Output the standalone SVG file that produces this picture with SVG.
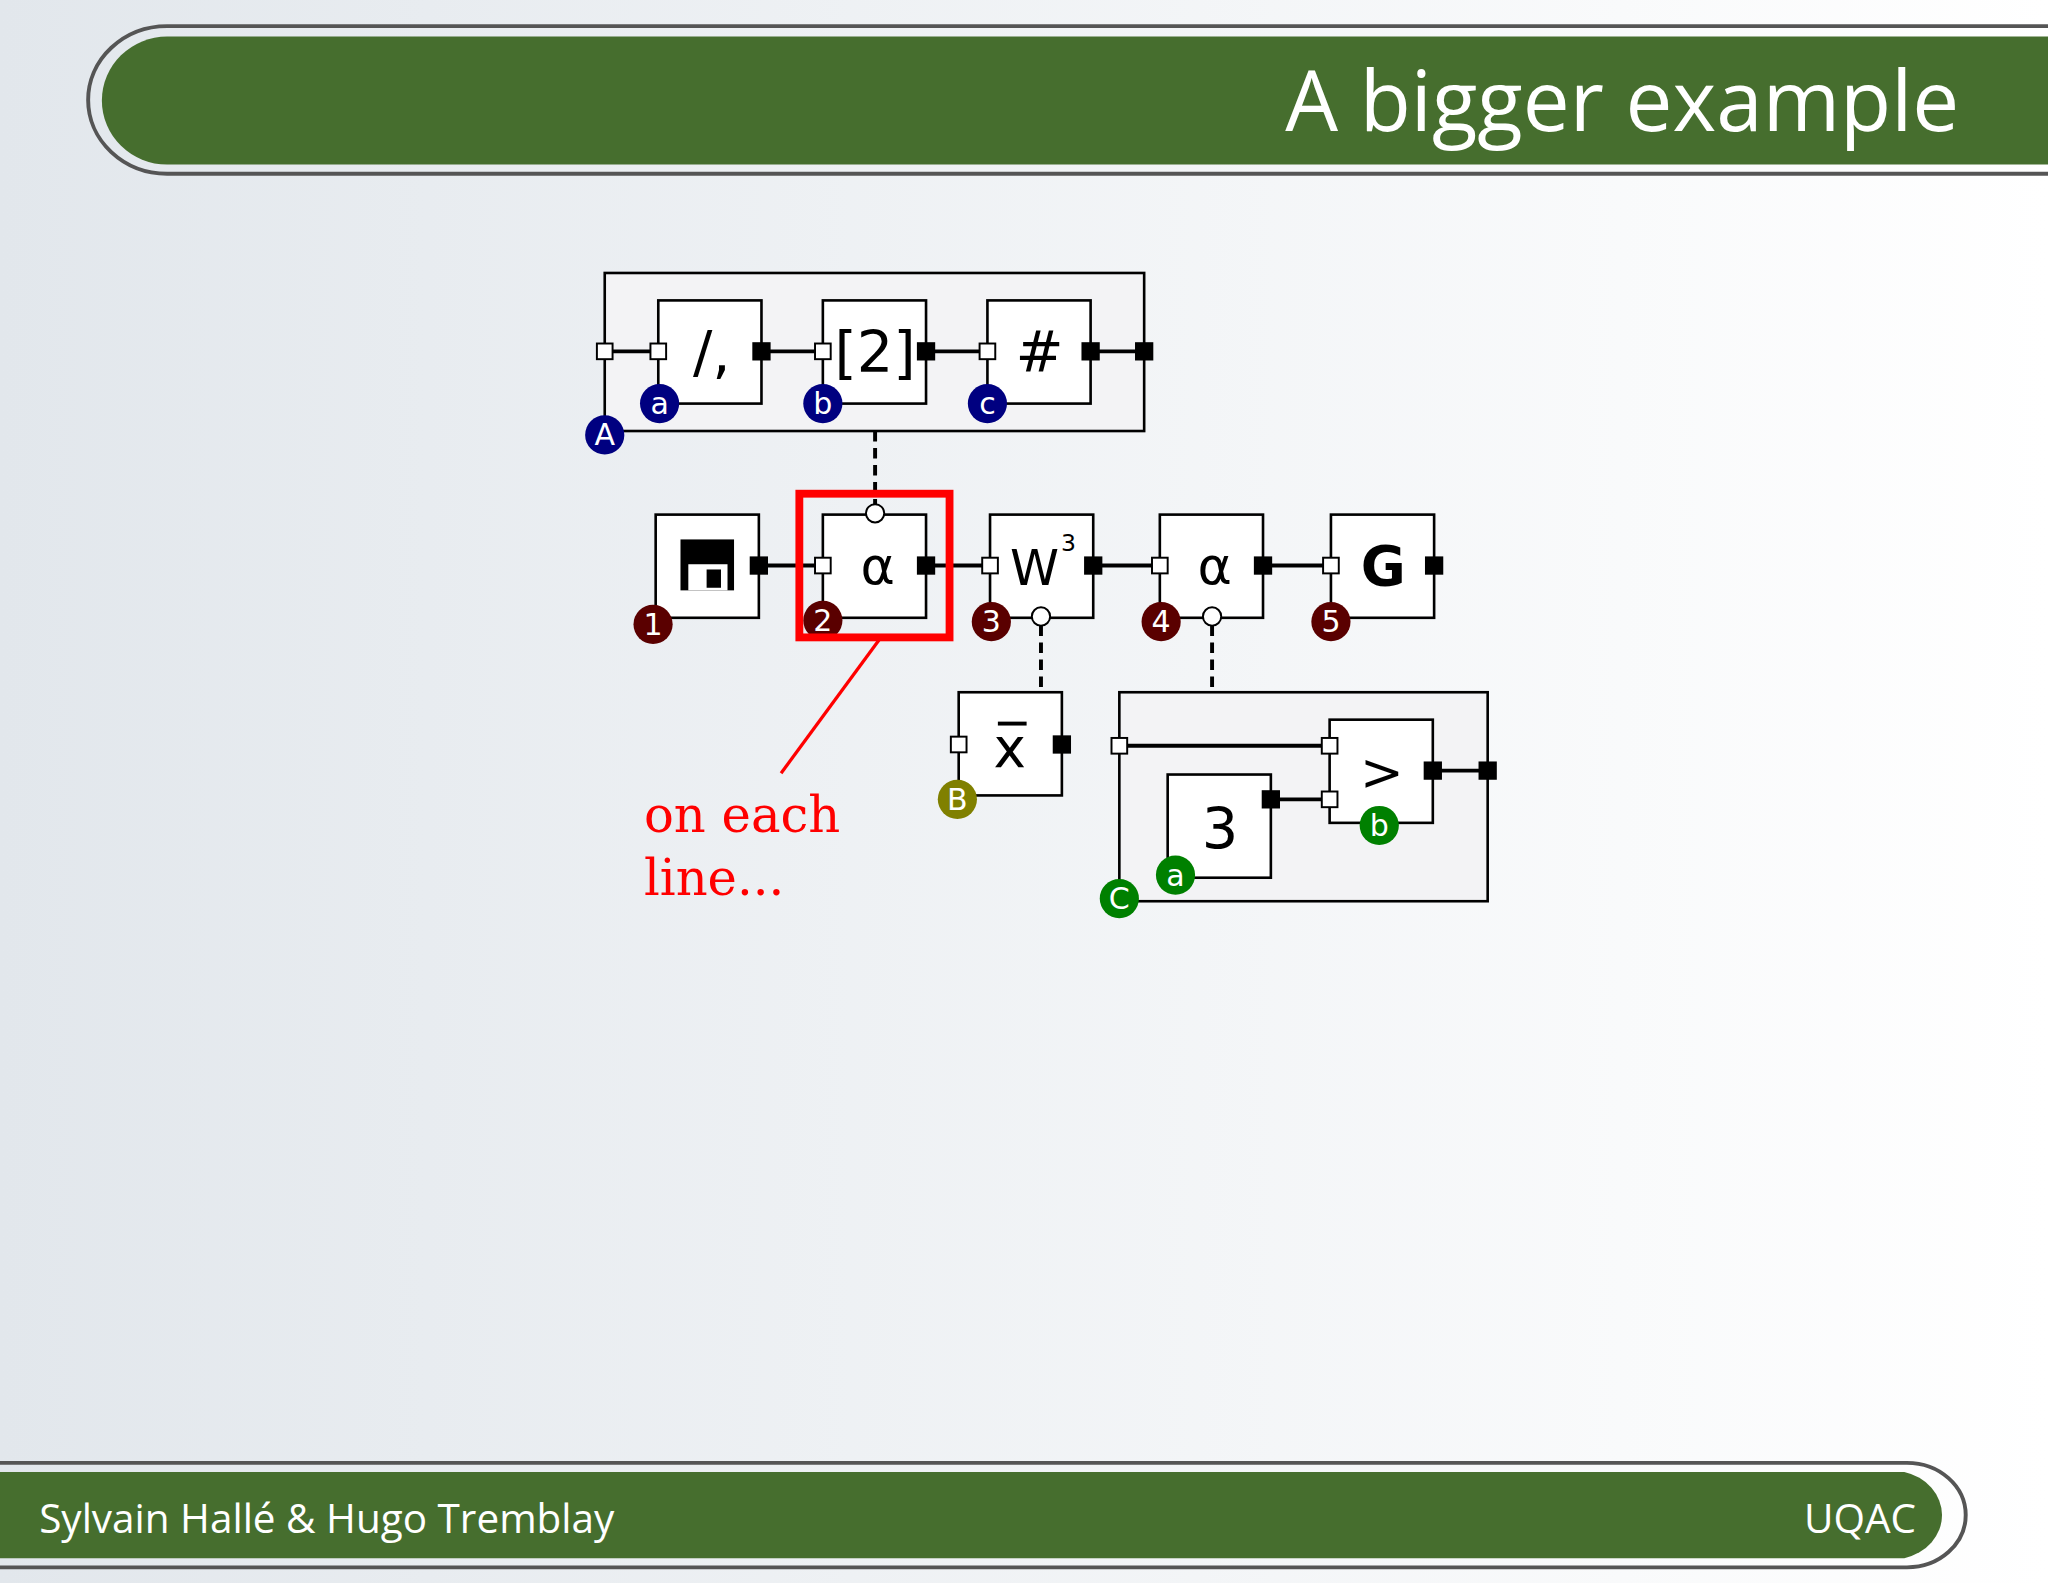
<svg xmlns="http://www.w3.org/2000/svg" width="2048" height="1583" viewBox="0 0 2048 1583">
<defs>
<linearGradient id="bg" x1="0" y1="0" x2="1" y2="0"><stop offset="0" stop-color="#e2e7ec"/><stop offset="1" stop-color="#ffffff"/></linearGradient>
<style>
.bx{fill:#fff;stroke:#000;stroke-width:2}
.gp{fill:#f3f3f5;stroke:#000;stroke-width:2}
.ln{stroke:#000;stroke-width:3;fill:none}
.ds{stroke:#000;stroke-width:3;stroke-dasharray:8,5;fill:none}
.pw{fill:#fff;stroke:#000;stroke-width:1.5}
.pb{fill:#000}
.lb{font-family:"DejaVu Sans",sans-serif;font-size:23px;fill:#fff;text-anchor:middle}
.sy{font-family:"DejaVu Sans",sans-serif;text-anchor:middle;fill:#000}
</style>
</defs>
<rect width="2048" height="1583" fill="url(#bg)"/>
<g transform="scale(1.30612)">
<g id="header">
<path d="M1568,20 H128 A60,56 0 0 0 128,133 H1568" fill="none" stroke="#555" stroke-width="3"/>
<path d="M1568,28 H128 A50,49 0 0 0 128,126 H1568 Z" fill="#466e2e"/>
<text x="1500" y="100" font-family="'Open Sans','DejaVu Sans',sans-serif" font-size="64" fill="#fff" text-anchor="end">A bigger example</text>
</g>
<g id="footer">
<path d="M0,1120 H1460 A45,40 0 0 1 1460,1200 H0" fill="none" stroke="#555" stroke-width="3"/>
<path d="M0,1127 H1458 A38,34 0 0 1 1458,1193 H0 Z" fill="#466e2e"/>
<text x="30" y="1174" font-family="'Open Sans','DejaVu Sans',sans-serif" font-size="31" fill="#fff">Sylvain Hallé &amp; Hugo Tremblay</text>
<text x="1467" y="1174" font-family="'Open Sans','DejaVu Sans',sans-serif" font-size="31" fill="#fff" text-anchor="end">UQAC</text>
</g>
<g id="groupA">
<rect class="gp" x="463" y="209" width="413" height="121"/>
<rect class="bx" x="504" y="230" width="79" height="79"/>
<rect class="bx" x="630" y="230" width="79" height="79"/>
<rect class="bx" x="756" y="230" width="79" height="79"/>
<text class="sy" x="545" y="285" font-size="44">/,</text>
<text class="sy" x="670" y="285" font-size="44">[2]</text>
<text class="sy" x="796" y="285" font-size="44">#</text>
</g>
<g id="row2">
<rect class="bx" x="502" y="394" width="79" height="79"/>
<rect x="521" y="413" width="41" height="39" fill="#000"/>
<rect x="527" y="432" width="30" height="20" fill="#fff"/>
<rect x="541" y="436" width="11" height="14" fill="#000"/>
<rect class="bx" x="630" y="394" width="79" height="79"/>
<text class="sy" x="672" y="447" font-size="40">α</text>
<rect class="bx" x="758" y="394" width="79" height="79"/>
<text class="sy" x="792" y="448" font-size="38">W</text>
<text class="sy" x="818" y="422" font-size="18">3</text>
<rect class="bx" x="888" y="394" width="79" height="79"/>
<text class="sy" x="930" y="447" font-size="40">α</text>
<rect class="bx" x="1019" y="394" width="79" height="79"/>
<text class="sy" x="1059" y="448" font-size="42" font-weight="bold">G</text>
</g>
<g id="xbar">
<rect class="bx" x="734" y="530" width="79" height="79"/>
<text class="sy" x="773" y="587" font-size="42">x</text>
<line x1="764" y1="554" x2="786" y2="554" stroke="#000" stroke-width="3"/>
</g>
<g id="groupC">
<rect class="gp" x="857" y="530" width="282" height="160"/>
<rect class="bx" x="1018" y="551" width="79" height="79"/>
<text class="sy" x="1058" y="605" font-size="40">&gt;</text>
<rect class="bx" x="894" y="593" width="79" height="79"/>
<text class="sy" x="934" y="650" font-size="44">3</text>
</g>
<g id="connectors">
<path class="ln" d="M463,269H504M583,269H630M709,269H756M835,269H876M581,433H630M709,433H758M837,433H888M967,433H1019M857,571H1018M973,612H1018M1097,590H1139"/>
<path class="ds" d="M670,330V386M797,479V530M928,479V530"/>
<line x1="673" y1="490" x2="598" y2="592" stroke="#f00" stroke-width="2.5"/>
</g>
<g id="ports">
<rect class="pw" x="457" y="263" width="12" height="12"/>
<rect class="pw" x="498" y="263" width="12" height="12"/>
<rect class="pw" x="624" y="263" width="12" height="12"/>
<rect class="pw" x="750" y="263" width="12" height="12"/>
<rect class="pb" x="576" y="262" width="14" height="14"/>
<rect class="pb" x="702" y="262" width="14" height="14"/>
<rect class="pb" x="828" y="262" width="14" height="14"/>
<rect class="pb" x="869" y="262" width="14" height="14"/>
<rect class="pb" x="574" y="426" width="14" height="14"/>
<rect class="pw" x="624" y="427" width="12" height="12"/>
<rect class="pb" x="702" y="426" width="14" height="14"/>
<rect class="pw" x="752" y="427" width="12" height="12"/>
<rect class="pb" x="830" y="426" width="14" height="14"/>
<rect class="pw" x="882" y="427" width="12" height="12"/>
<rect class="pb" x="960" y="426" width="14" height="14"/>
<rect class="pw" x="1013" y="427" width="12" height="12"/>
<rect class="pb" x="1091" y="426" width="14" height="14"/>
<rect class="pw" x="728" y="564" width="12" height="12"/>
<rect class="pb" x="806" y="563" width="14" height="14"/>
<rect class="pw" x="851" y="565" width="12" height="12"/>
<rect class="pw" x="1012" y="565" width="12" height="12"/>
<rect class="pw" x="1012" y="606" width="12" height="12"/>
<rect class="pb" x="966" y="605" width="14" height="14"/>
<rect class="pb" x="1090" y="583" width="14" height="14"/>
<rect class="pb" x="1132" y="583" width="14" height="14"/>
<circle class="pw" cx="670" cy="393" r="7"/>
<circle class="pw" cx="797" cy="472" r="7"/>
<circle class="pw" cx="928" cy="472" r="7"/>
</g>
<g id="labels">
<circle cx="463" cy="333" r="15" fill="#000080"/><text class="lb" x="463" y="341">A</text>
<circle cx="505" cy="309" r="15" fill="#000080"/><text class="lb" x="505" y="317">a</text>
<circle cx="630" cy="309" r="15" fill="#000080"/><text class="lb" x="630" y="317">b</text>
<circle cx="756" cy="309" r="15" fill="#000080"/><text class="lb" x="756" y="317">c</text>
<circle cx="500" cy="478" r="15" fill="#5a0000"/><text class="lb" x="500" y="486">1</text>
<circle cx="630" cy="475" r="15" fill="#5a0000"/><text class="lb" x="630" y="483">2</text>
<circle cx="759" cy="476" r="15" fill="#5a0000"/><text class="lb" x="759" y="484">3</text>
<circle cx="889" cy="476" r="15" fill="#5a0000"/><text class="lb" x="889" y="484">4</text>
<circle cx="1019" cy="476" r="15" fill="#5a0000"/><text class="lb" x="1019" y="484">5</text>
<circle cx="733" cy="612" r="15" fill="#808000"/><text class="lb" x="733" y="620">B</text>
<circle cx="857" cy="688" r="15" fill="#008000"/><text class="lb" x="857" y="696">C</text>
<circle cx="900" cy="670" r="15" fill="#008000"/><text class="lb" x="900" y="678">a</text>
<circle cx="1056" cy="632" r="15" fill="#008000"/><text class="lb" x="1056" y="640">b</text>
</g>
<rect id="highlight" x="612" y="378" width="115" height="110" fill="none" stroke="#f00" stroke-width="6"/>
<g id="note" font-family="'DejaVu Serif',serif" font-size="38" fill="#f00">
<text x="493" y="637">on each</text>
<text x="493" y="685">line...</text>
</g>
</g>
</svg>
